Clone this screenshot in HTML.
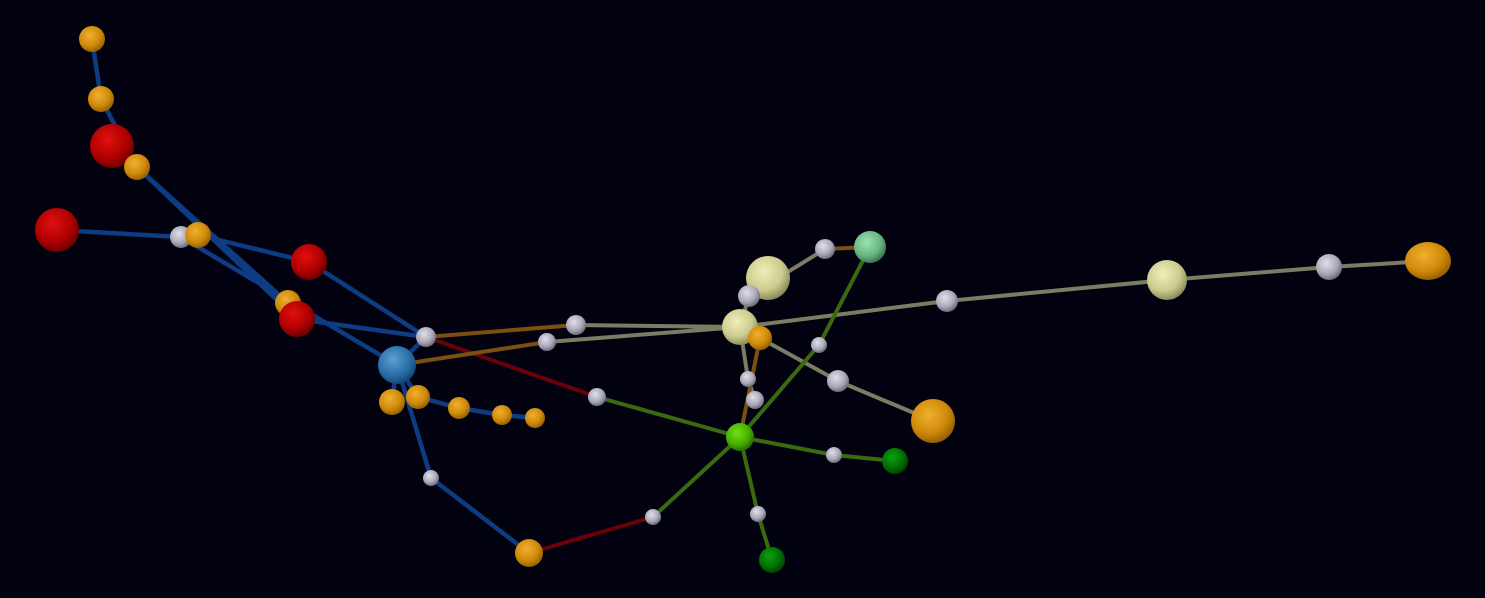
<!DOCTYPE html>
<html><head><meta charset="utf-8">
<style>
html,body{margin:0;padding:0;background:#02010f;width:1485px;height:598px;overflow:hidden}
svg{display:block}
</style></head>
<body>
<svg id="chart" width="1485" height="598" xmlns="http://www.w3.org/2000/svg">
<defs>
<radialGradient id="g-orange" cx="40%" cy="35%" r="70%"><stop offset="0" stop-color="#f0b030"/><stop offset="0.6" stop-color="#d08a0a"/><stop offset="1" stop-color="#8a5a00"/></radialGradient>
<radialGradient id="g-red" cx="40%" cy="35%" r="70%"><stop offset="0" stop-color="#e01010"/><stop offset="0.6" stop-color="#b00000"/><stop offset="1" stop-color="#600000"/></radialGradient>
<radialGradient id="g-gray" cx="40%" cy="35%" r="70%"><stop offset="0" stop-color="#e0e0ea"/><stop offset="0.6" stop-color="#a8a8b8"/><stop offset="1" stop-color="#606070"/></radialGradient>
<radialGradient id="g-blue" cx="40%" cy="35%" r="70%"><stop offset="0" stop-color="#5aa0d0"/><stop offset="0.6" stop-color="#2a70a8"/><stop offset="1" stop-color="#104070"/></radialGradient>
<radialGradient id="g-khaki" cx="40%" cy="35%" r="70%"><stop offset="0" stop-color="#eeeeb8"/><stop offset="0.6" stop-color="#cccc90"/><stop offset="1" stop-color="#808050"/></radialGradient>
<radialGradient id="g-lime" cx="40%" cy="35%" r="70%"><stop offset="0" stop-color="#70e010"/><stop offset="0.6" stop-color="#44b000"/><stop offset="1" stop-color="#206000"/></radialGradient>
<radialGradient id="g-mint" cx="40%" cy="35%" r="70%"><stop offset="0" stop-color="#a0e0b0"/><stop offset="0.6" stop-color="#68b880"/><stop offset="1" stop-color="#386848"/></radialGradient>
<radialGradient id="g-dgreen" cx="40%" cy="35%" r="70%"><stop offset="0" stop-color="#10a010"/><stop offset="0.6" stop-color="#007000"/><stop offset="1" stop-color="#003800"/></radialGradient>
</defs>
<g id="edges"></g>
<g id="nodes"></g>
</svg>
<script>
const nodeX = [92,101,112,137,57,181,198,309,288,297,426,397,392,418,459,502,535,431,529,653,597,576,547,740,740,768,749,760,825,870,819,748,755,838,933,834,895,758,772,947,1167,1329,1428];
const nodeY = [39,99,146,167,230,237,235,262,303,319,337,365,402,397,408,415,418,478,553,517,397,325,342,437,327,278,296,338,249,247,345,379,400,381,421,455,461,514,560,301,280,267,261];
const nodeR = [13,13,22,13,22,11,13,18,13,18,10,19,13,12,11,10,10,8,14,8,9,10,9,14,18,22,11,12,10,16,8,8,9,11,22,8,13,8,13,11,20,13,22];
const nodeGroup = ["orange","orange","red","orange","red","gray","orange","red","orange","red","gray","blue","orange","orange","orange","orange","orange","gray","orange","gray","gray","gray","gray","lime","khaki","khaki","gray","orange","gray","mint","gray","gray","gray","gray","orange","gray","dgreen","gray","dgreen","gray","khaki","gray","orange"];
const edgeFrom = [0,1,3,3,4,5,5,7,9,11,11,17,11,13,14,15,11,10,11,10,18,21,22,24,39,40,41,24,26,28,24,33,24,31,20,19,23,35,23,37,23,30,23,6];
const edgeTo   = [1,3,8,9,5,6,11,10,10,10,17,18,13,14,15,16,12,20,22,21,19,24,24,39,40,41,42,26,28,29,33,34,31,32,23,23,35,36,37,38,30,29,27,7];
const edgeType = ["blue","blue","blue","blue","blue","blue","blue","blue","blue","blue","blue","blue","blue","blue","blue","blue","blue","red","brown","brown","red","khaki","khaki","khaki","khaki","khaki","khaki","khaki","khaki","brown","khaki","khaki","khaki","khaki","green","green","green","green","green","green","green","green","brown","blue"];
const edgeColor = {blue:"#0d3c82",red:"#6a0008",brown:"#7a5010",khaki:"#7c7c62",green:"#3a6a10"};
const eg = document.getElementById('edges');
const ng = document.getElementById('nodes');
const NS = "http://www.w3.org/2000/svg";
for (let i = 0; i < edgeFrom.length; i++) {
  const a = edgeFrom[i], b = edgeTo[i];
  const l = document.createElementNS(NS, 'line');
  l.setAttribute('x1', nodeX[a]); l.setAttribute('y1', nodeY[a]);
  l.setAttribute('x2', nodeX[b]); l.setAttribute('y2', nodeY[b]);
  l.setAttribute('stroke', edgeColor[edgeType[i]]);
  l.setAttribute('stroke-width', edgeType[i] === 'blue' ? 4.5 : 4);
  l.setAttribute('stroke-linecap', 'round');
  
  
  eg.appendChild(l);
}
for (let i = 0; i < nodeX.length; i++) {
  const c = document.createElementNS(NS, 'ellipse');
  c.setAttribute('cx', nodeX[i]); c.setAttribute('cy', nodeY[i]);
  c.setAttribute('rx', i === 42 ? nodeR[i] + 1 : nodeR[i]);
  c.setAttribute('ry', i === 42 ? nodeR[i] - 3 : nodeR[i]);
  c.setAttribute('fill', 'url(#g-' + nodeGroup[i] + ')');
  
  
  ng.appendChild(c);
}
</script>
</body></html>
